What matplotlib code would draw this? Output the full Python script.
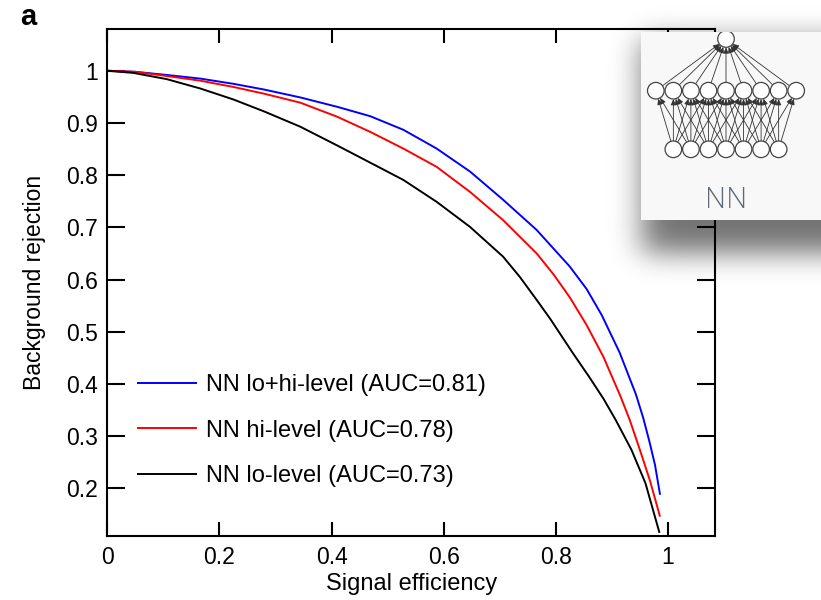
import numpy as np
import matplotlib
matplotlib.use("Agg")
import matplotlib.pyplot as plt
from matplotlib.patches import Circle

plt.rcParams['font.family'] = ['Liberation Sans', 'DejaVu Sans']

# ROC curves: signal efficiency vs background rejection
eff_lohi = [0.0, 0.05, 0.106, 0.166, 0.225, 0.28, 0.344, 0.41, 0.469, 0.528, 0.5875, 0.647, 0.706,
            0.766, 0.825, 0.855, 0.882, 0.914, 0.943, 0.956, 0.967, 0.977, 0.986]
rej_lohi = [1.0, 0.998, 0.992, 0.985, 0.975, 0.964, 0.949, 0.931, 0.913, 0.887, 0.851, 0.807, 0.753,
            0.695, 0.625, 0.582, 0.532, 0.46, 0.38, 0.335, 0.29, 0.245, 0.188]

eff_hi = [0.0, 0.05, 0.106, 0.166, 0.225, 0.28, 0.344, 0.41, 0.469, 0.528, 0.5875, 0.647, 0.706,
          0.766, 0.796, 0.825, 0.855, 0.885, 0.916, 0.932, 0.950, 0.968, 0.986]
rej_hi = [1.0, 0.998, 0.990, 0.981, 0.969, 0.956, 0.939, 0.912, 0.883, 0.851, 0.816, 0.768, 0.714,
          0.650, 0.610, 0.566, 0.513, 0.452, 0.375, 0.331, 0.274, 0.215, 0.146]

eff_lo = [0.0, 0.046, 0.106, 0.166, 0.225, 0.28, 0.344, 0.41, 0.469, 0.528, 0.5875, 0.647, 0.706,
          0.736, 0.766, 0.79, 0.83, 0.86, 0.885, 0.907, 0.935, 0.96, 0.985]
rej_lo = [1.0, 0.996, 0.984, 0.966, 0.945, 0.922, 0.893, 0.857, 0.824, 0.791, 0.749, 0.701, 0.644,
          0.605, 0.561, 0.525, 0.46, 0.413, 0.372, 0.331, 0.274, 0.21, 0.115]

labels = ['NN lo+hi-level (AUC=0.81)', 'NN hi-level (AUC=0.78)', 'NN lo-level (AUC=0.73)']
colors = ['#0000ff', '#ff0000', '#000000']

xticks = [0, 0.2, 0.4, 0.6, 0.8, 1]
xticklabels = ['0', '0.2', '0.4', '0.6', '0.8', '1']
yticks = [0.2, 0.3, 0.4, 0.5, 0.6, 0.7, 0.8, 0.9, 1]
yticklabels = ['0.2', '0.3', '0.4', '0.5', '0.6', '0.7', '0.8', '0.9', '1']

# network sketch: nodes per layer (input, hidden, output)
layer_sizes = [7, 9, 1]

W, H = 821, 600
fig = plt.figure(figsize=(W / 100, H / 100), dpi=100)
ax = fig.add_axes([107.3 / W, 1 - 536 / H, (715 - 107.3) / W, (536 - 29) / H])

for x, y, lab, c in zip([eff_lohi, eff_hi, eff_lo], [rej_lohi, rej_hi, rej_lo], labels, colors):
    ax.plot(x, y, color=c, lw=1.4, label=lab, solid_capstyle='butt', solid_joinstyle='round')

ax.set_xlim(0, 1.084)
ax.set_ylim(0.109, 1.08)
ax.set_xticks(xticks)
ax.set_xticklabels(xticklabels)
ax.set_yticks(yticks)
ax.set_yticklabels(yticklabels)
for s in ax.spines.values():
    s.set_linewidth(1.5)
ax.tick_params(axis='both', direction='in', top=True, right=True, width=1.5, labelsize=16.5)
ax.tick_params(axis='x', length=10, pad=7)
ax.tick_params(axis='y', length=13, pad=7)
ax.set_xlabel('Signal efficiency', fontsize=17, labelpad=3)
ax.set_ylabel('Background rejection', fontsize=16.5, labelpad=14)

ax.legend(loc='upper left', bbox_to_anchor=(137 / W, 1 - 374 / H), bbox_transform=fig.transFigure,
          frameon=False, fontsize=17, handlelength=2.54, handletextpad=0.38,
          labelspacing=1.0, borderpad=0, borderaxespad=0)

fig.text(20 / W, 1 - 17 / H, 'a', fontsize=21, fontweight='bold', va='center', ha='left')

# soft drop shadow behind the inset panel
yy, xx = np.mgrid[0:H, 0:W]


def soft_step(coord, lo, hi, sigma):
    k = np.arange(-4 * sigma, 4 * sigma + 1)
    g = np.exp(-0.5 * (k / sigma) ** 2)
    g /= g.sum()
    n = coord.max() + 1
    line = ((np.arange(n) >= lo) & (np.arange(n) <= hi)).astype(float)
    pad = len(k)
    line = np.pad(line, pad, mode='edge')
    line = np.convolve(line, g, mode='same')[pad:-pad]
    return line[coord]


shadow = soft_step(xx, 642, 900, 15) * soft_step(yy, 40, 252, 14) * 0.55
rgba = np.zeros((H, W, 4))
rgba[..., 3] = shadow
sax = fig.add_axes([0, 0, 1, 1], zorder=5)
sax.imshow(rgba, extent=(0, W, H, 0), aspect='auto', interpolation='bilinear')
sax.set_xlim(0, W)
sax.set_ylim(H, 0)
sax.axis('off')

# inset panel with the network diagram
x0, x1, y0, y1 = 641, 821, 32, 220
iax = fig.add_axes([x0 / W, 1 - y1 / H, (x1 - x0) / W, (y1 - y0) / H], zorder=6)
iax.set_facecolor('#f8f8f8')
iax.set_xlim(x0, x1)
iax.set_ylim(y1, y0)
for s in iax.spines.values():
    s.set_visible(False)
iax.set_xticks([])
iax.set_yticks([])

r = 8.3
layer_y = [149.3, 90.7, 39]
spacing = 17.55
cx = 726
nodes = []
for n, ly in zip(layer_sizes, layer_y):
    xs = cx + (np.arange(n) - (n - 1) / 2) * spacing
    nodes.append([(x, ly) for x in xs])
    for x in xs:
        iax.add_patch(Circle((x, ly), r, facecolor='white', edgecolor='#444444', lw=0.9, zorder=3))

arrow = dict(arrowstyle='-|>,head_length=0.35,head_width=0.15', color='#333333', lw=0.6,
             shrinkA=0, shrinkB=0)
ox, oy = nodes[2][0]
for hx, hy in nodes[1]:
    d = np.hypot(ox - hx, oy - hy)
    ux, uy = (ox - hx) / d, (oy - hy) / d
    iax.annotate('', xy=(ox - ux * r, oy - uy * r), xytext=(hx + ux * r, hy + uy * r),
                 arrowprops=arrow, zorder=2)
for ix, iy in nodes[0]:
    for hx, hy in nodes[1]:
        if abs(hx - ix) <= 40:
            d = np.hypot(hx - ix, hy - iy)
            ux, uy = (hx - ix) / d, (hy - iy) / d
            iax.annotate('', xy=(hx - ux * r, hy - uy * r), xytext=(ix + ux * r, iy + uy * r),
                         arrowprops=arrow, zorder=2)

iax.text(cx, 200, 'NN', fontsize=21, color='#5e6a78', ha='center', va='center',
         family=['Open Sans', 'DejaVu Sans'], fontweight='light')

fig.savefig('out.png', dpi=100)
